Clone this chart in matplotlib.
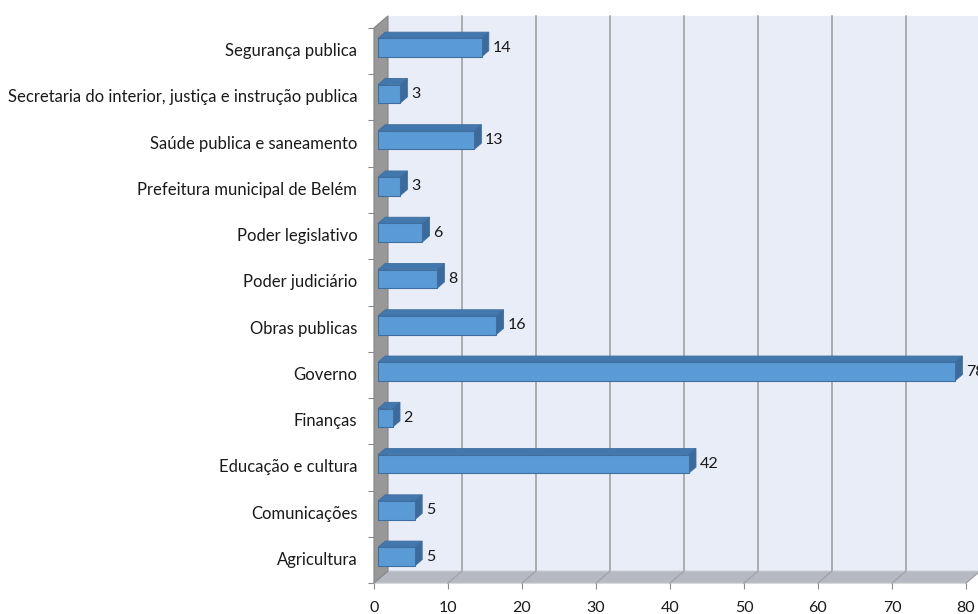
import matplotlib
matplotlib.use('Agg')
import matplotlib.pyplot as plt
from matplotlib.patches import Polygon

# categories from bottom to top, as drawn on the chart
categorias = ['Agricultura', 'Comunicações', 'Educação e cultura', 'Finanças',
              'Governo', 'Obras publicas', 'Poder judiciário', 'Poder legislativo',
              'Prefeitura municipal de Belém', 'Saúde publica e saneamento',
              'Secretaria do interior, justiça e instrução publica',
              'Segurança publica']
valores = [5, 5, 42, 2, 78, 16, 8, 6, 3, 13, 3, 14]
x_ticks = [0, 10, 20, 30, 40, 50, 60, 70, 80]

# fake 3d depth, in data units (about 14px right, 12px up)
DX = 1.89
DY = 0.26
F1, F2 = 0.28, 0.80   # bar depth span inside the box
H = 0.20              # half bar height

WALL = '#e9edf8'
SIDE = '#989898'
FLOOR = '#b6b9c1'
GRID = '#9a9a9a'
FRONT = '#5b9bd5'
TOP = '#4378ae'
END = '#3c6a9c'
EDGE = '#3e6f9f'

plt.rcParams['font.family'] = ['Lato', 'DejaVu Sans']
plt.rcParams['font.size'] = 12

fig = plt.figure(figsize=(9.79, 6.14), dpi=100)
ax = fig.add_axes([374 / 979, 30.9 / 614, 592 / 979, 555.2 / 614])
ax.set_xlim(0, 80)
ax.set_ylim(-0.5, len(categorias) - 0.5)
ax.patch.set_visible(False)
for s in ax.spines.values():
    s.set_visible(False)

y0, y1 = -0.5, len(categorias) - 0.5
xmax = x_ticks[-1]

# back wall
ax.add_patch(Polygon([(DX, y0 + DY), (xmax + DX, y0 + DY), (xmax + DX, y1 + DY), (DX, y1 + DY)],
                     closed=True, facecolor=WALL, edgecolor='none', clip_on=False, zorder=1))
# floor
ax.add_patch(Polygon([(0, y0), (xmax, y0), (xmax + DX, y0 + DY), (DX, y0 + DY)],
                     closed=True, facecolor=FLOOR, edgecolor='#c8cad0', lw=0.8,
                     clip_on=False, zorder=2))
# left side wall
ax.add_patch(Polygon([(0, y0), (DX, y0 + DY), (DX, y1 + DY), (0, y1)],
                     closed=True, facecolor=SIDE, edgecolor='#858585', lw=0.8,
                     clip_on=False, zorder=2))

# gridlines on the wall and the floor
for t in x_ticks[1:]:
    ax.plot([t + DX, t + DX], [y0 + DY, y1 + DY], color=GRID, lw=1.1, clip_on=False, zorder=1.5)
    ax.plot([t, t + DX], [y0, y0 + DY], color='#a2a4aa', lw=1.0, clip_on=False, zorder=2.5)

# bars: front face, top face, end face
for i, v in enumerate(valores):
    xa, xb = F1 * DX, v + F1 * DX
    lo, hi = i - H + F1 * DY, i + H + F1 * DY
    ddx, ddy = (F2 - F1) * DX, (F2 - F1) * DY
    ax.add_patch(Polygon([(xa, hi), (xb, hi), (xb + ddx, hi + ddy), (xa + ddx, hi + ddy)],
                         closed=True, facecolor=TOP, edgecolor=EDGE, lw=0.6,
                         clip_on=False, zorder=4))
    ax.add_patch(Polygon([(xb, lo), (xb, hi), (xb + ddx, hi + ddy), (xb + ddx, lo + ddy)],
                         closed=True, facecolor=END, edgecolor=EDGE, lw=0.6,
                         clip_on=False, zorder=4))
    ax.barh(i + F1 * DY, v, left=xa, height=2 * H, color=FRONT, edgecolor=EDGE,
            lw=0.8, zorder=5, clip_on=False)
    # the "78" label runs off the right edge, as in the original
    ax.text(xb + ddx + 0.5, i + F1 * DY, str(v), va='center', ha='left',
            fontsize=11.5, color='#1a1a1a', zorder=6, clip_on=False)

# axes ticks
ax.set_xticks(x_ticks)
ax.set_yticks(range(len(categorias)))
ax.set_yticklabels(categorias, va='center')
ax.set_yticks([k - 0.5 for k in range(len(categorias) + 1)], minor=True)
ax.tick_params(axis='y', which='major', length=0, pad=12)
ax.tick_params(axis='y', which='minor', length=4, width=0.8, color='#8a8a8a')
ax.tick_params(axis='x', which='major', length=4, width=0.8, color='#8a8a8a',
               pad=9, labelsize=11.5)
for lab in ax.get_yticklabels():
    lab.set_color('#1a1a1a')
for lab in ax.get_xticklabels():
    lab.set_color('#1a1a1a')

plt.savefig('out.png', dpi=100)
plt.close()
